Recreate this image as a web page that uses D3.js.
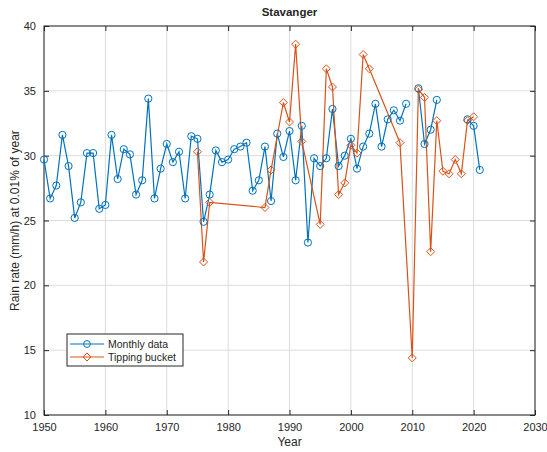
<!doctype html>
<html>
<head>
<meta charset="utf-8">
<script src="https://d3js.org/d3.v7.min.js"></script>
<style>
  body { margin: 0; background: #fff; }
  text { font-family: "Liberation Sans", Arial, sans-serif; fill: #262626; }
</style>
</head>
<body>
<svg width="547" height="452"></svg>
<script>
// Monthly data (null = no value that year)
var monthlyYears = [1950,1951,1952,1953,1954,1955,1956,1957,1958,1959,
                    1960,1961,1962,1963,1964,1965,1966,1967,1968,1969,
                    1970,1971,1972,1973,1974,1975,1976,1977,1978,1979,
                    1980,1981,1982,1983,1984,1985,1986,1987,1988,1989,
                    1990,1991,1992,1993,1994,1995,1996,1997,1998,1999,
                    2000,2001,2002,2003,2004,2005,2006,2007,2008,2009,
                    2010,2011,2012,2013,2014,2015,2016,2017,2018,2019,
                    2020,2021];
var monthlyRain = [29.7,26.7,27.7,31.6,29.2,25.2,26.4,30.2,30.2,25.9,
                   26.2,31.6,28.2,30.5,30.1,27.0,28.1,34.4,26.7,29.0,
                   30.9,29.5,30.3,26.7,31.5,31.3,24.9,27.0,30.4,29.5,
                   29.7,30.5,30.7,31.0,27.3,28.1,30.7,26.5,31.7,29.9,
                   31.9,28.1,32.3,23.3,29.8,29.2,29.8,33.6,29.2,30.0,
                   31.3,29.0,30.7,31.7,34.0,30.7,32.8,33.5,32.7,34.0,
                   null,35.2,30.9,32.0,34.3,null,null,null,null,32.8,
                   32.3,28.9];

// Tipping bucket
var bucketYears = [1975,1976,1977,1986,1987,1989,1990,1991,1992,1995,
                   1996,1997,1998,1999,2000,2001,2002,2003,2008,2010,
                   2011,2012,2013,2014,2015,2016,2017,2018,2019,2020];
var bucketRain = [30.3,21.8,26.4,26.0,28.9,34.1,32.6,38.6,31.1,24.7,
                  36.7,35.3,27.0,27.9,30.8,30.2,37.8,36.7,31.0,14.4,
                  35.1,34.5,22.6,32.7,28.8,28.6,29.7,28.6,32.7,33.0];

var xTicks = [1950,1960,1970,1980,1990,2000,2010,2020,2030];
var yTicks = [10,15,20,25,30,35,40];

var blue = "#0072BD", orange = "#D95319";

var svg = d3.select("svg");
var pLeft = 44, pRight = 535, pTop = 26, pBottom = 415;

var x = d3.scaleLinear().domain([1950, 2030]).range([pLeft, pRight]);
var y = d3.scaleLinear().domain([10, 40]).range([pBottom, pTop]);

var monthly = monthlyYears.map(function(d, i) { return {x: d, y: monthlyRain[i]}; });
var bucket = bucketYears.map(function(d, i) { return {x: d, y: bucketRain[i]}; });

// grid
svg.append("g").selectAll("line").data(xTicks).enter().append("line")
   .attr("x1", function(d) { return x(d); }).attr("x2", function(d) { return x(d); })
   .attr("y1", pTop).attr("y2", pBottom)
   .attr("stroke", "#dcdcdc").attr("stroke-width", 1);
svg.append("g").selectAll("line").data(yTicks).enter().append("line")
   .attr("y1", function(d) { return y(d); }).attr("y2", function(d) { return y(d); })
   .attr("x1", pLeft).attr("x2", pRight)
   .attr("stroke", "#dcdcdc").attr("stroke-width", 1);

// axes (ticks inward, box all round)
svg.append("g").attr("transform", "translate(0," + pBottom + ")")
   .call(d3.axisBottom(x).tickValues(xTicks).tickFormat(d3.format("d")).tickSizeInner(-5).tickSizeOuter(0).tickPadding(8))
   .call(function(g) { g.select(".domain").remove(); });
svg.append("g").attr("transform", "translate(" + pLeft + ",0)")
   .call(d3.axisLeft(y).tickValues(yTicks).tickSizeInner(-5).tickSizeOuter(0).tickPadding(8))
   .call(function(g) { g.select(".domain").remove(); });
svg.append("g").attr("transform", "translate(0," + pTop + ")")
   .call(d3.axisTop(x).tickValues(xTicks).tickFormat("").tickSizeInner(-5).tickSizeOuter(0))
   .call(function(g) { g.select(".domain").remove(); });
svg.append("g").attr("transform", "translate(" + pRight + ",0)")
   .call(d3.axisRight(y).tickValues(yTicks).tickFormat("").tickSizeInner(-5).tickSizeOuter(0))
   .call(function(g) { g.select(".domain").remove(); });

svg.selectAll(".tick line").attr("stroke", "#262626");
svg.selectAll(".tick text").attr("font-size", "11px").attr("fill", "#262626");

svg.append("rect").attr("x", pLeft).attr("y", pTop)
   .attr("width", pRight - pLeft).attr("height", pBottom - pTop)
   .attr("fill", "none").attr("stroke", "#262626").attr("stroke-width", 1);

// lines
var line = d3.line()
   .defined(function(d) { return d.y != null; })
   .x(function(d) { return x(d.x); })
   .y(function(d) { return y(d.y); });

svg.append("path").datum(monthly).attr("d", line)
   .attr("fill", "none").attr("stroke", blue).attr("stroke-width", 1.2);
svg.append("path").datum(bucket).attr("d", line)
   .attr("fill", "none").attr("stroke", orange).attr("stroke-width", 1.2);

svg.append("g").selectAll("circle")
   .data(monthly.filter(function(d) { return d.y != null; }))
   .enter().append("circle")
   .attr("cx", function(d) { return x(d.x); })
   .attr("cy", function(d) { return y(d.y); })
   .attr("r", 3.6).attr("fill", "none").attr("stroke", blue).attr("stroke-width", 1);

var diamond = function(cx, cy) {
  var s = 4;
  return "M" + cx + "," + (cy - s) + "L" + (cx + s) + "," + cy + "L" + cx + "," + (cy + s) + "L" + (cx - s) + "," + cy + "Z";
};
svg.append("g").selectAll("path")
   .data(bucket).enter().append("path")
   .attr("d", function(d) { return diamond(x(d.x), y(d.y)); })
   .attr("fill", "none").attr("stroke", orange).attr("stroke-width", 1);

// title and labels
svg.append("text").attr("x", (pLeft + pRight) / 2).attr("y", 16)
   .attr("text-anchor", "middle").attr("font-size", "11.5px").attr("font-weight", "bold")
   .attr("fill", "#000").text("Stavanger");
svg.append("text").attr("x", (pLeft + pRight) / 2).attr("y", 446)
   .attr("text-anchor", "middle").attr("font-size", "12px").text("Year");
svg.append("text").attr("transform", "translate(19," + ((pTop + pBottom) / 2) + ") rotate(-90)")
   .attr("text-anchor", "middle").attr("font-size", "12px")
   .text("Rain rate (mm/h) at 0.01% of year");

// legend
var lg = svg.append("g").attr("transform", "translate(67,334)");
lg.append("rect").attr("width", 116).attr("height", 32)
  .attr("fill", "#fff").attr("stroke", "#262626").attr("stroke-width", 1);
var items = [{name: "Monthly data", color: blue, mark: "circle"},
             {name: "Tipping bucket", color: orange, mark: "diamond"}];
items.forEach(function(it, i) {
  var cy = 10 + i * 13;
  lg.append("line").attr("x1", 3).attr("x2", 37).attr("y1", cy).attr("y2", cy)
    .attr("stroke", it.color).attr("stroke-width", 1.2);
  if (it.mark == "circle") {
    lg.append("circle").attr("cx", 20).attr("cy", cy).attr("r", 3.4)
      .attr("fill", "none").attr("stroke", it.color);
  } else {
    lg.append("path").attr("d", diamond(20, cy))
      .attr("fill", "none").attr("stroke", it.color);
  }
  lg.append("text").attr("x", 41).attr("y", cy + 4).attr("font-size", "10.5px")
    .attr("fill", "#000").text(it.name);
});
</script>
</body>
</html>
